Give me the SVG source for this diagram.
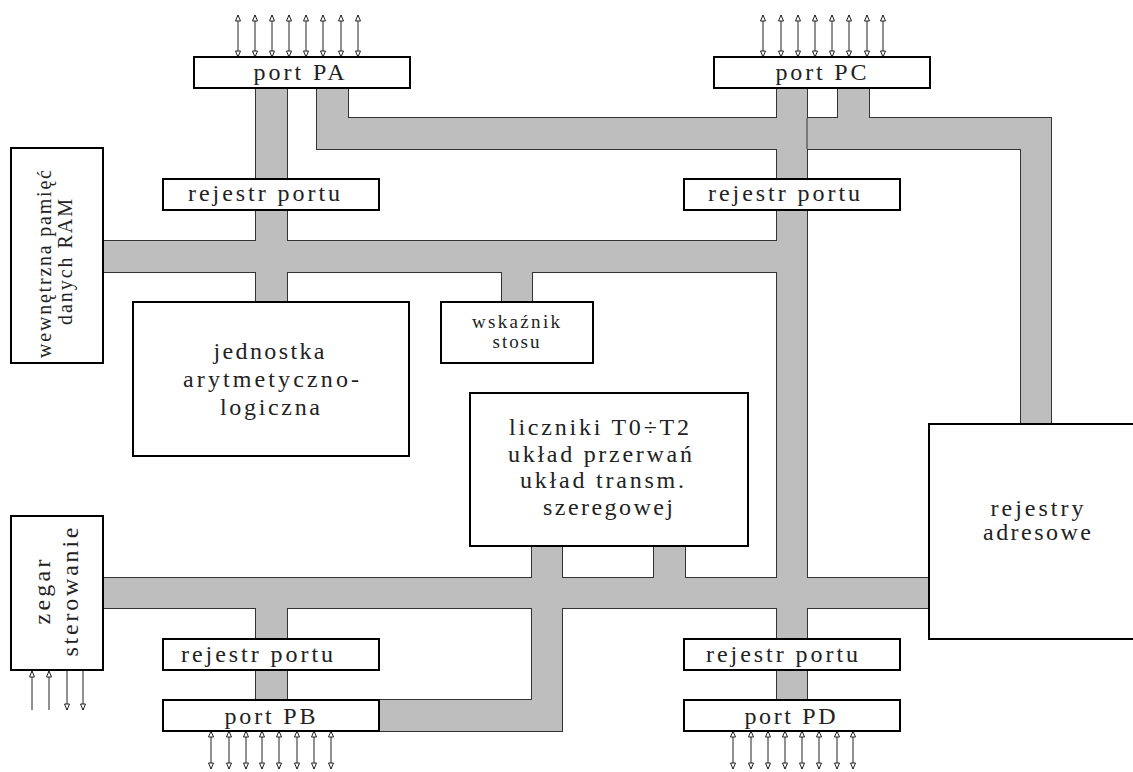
<svg xmlns="http://www.w3.org/2000/svg" width="1133" height="772" viewBox="0 0 1133 772">
<style>
.bs{fill:none;stroke:#333;stroke-width:2}
.bf{fill:#bebebe;stroke:none}
.box{fill:#fff;stroke:#000;stroke-width:2}
.t{font-family:"Liberation Serif","Times New Roman",serif;font-size:24px;fill:#222;text-anchor:middle}
.ts{font-family:"Liberation Serif","Times New Roman",serif;font-size:19px;fill:#222;text-anchor:middle}
.tr{font-family:"Liberation Serif","Times New Roman",serif;font-size:20px;fill:#222;text-anchor:middle}
.ar{stroke:#222;stroke-width:1;fill:none}
.ab{marker-start:url(#ah);marker-end:url(#ah)}
.ae{marker-end:url(#ah)}
.as{marker-start:url(#ah)}
</style>
<defs>
<marker id="ah" viewBox="-1 -4 8 8" markerWidth="8" markerHeight="8" markerUnits="userSpaceOnUse" refX="6" refY="0" orient="auto-start-reverse">
<path d="M0,-2.5 L6,0 L0,2.5 Z" fill="#fff" stroke="#222" stroke-width="1"/>
</marker>
</defs>
<g id="connectors">
<g id="bus-outline">
<rect class="bs" x="256" y="88" width="31" height="214"/>
<rect class="bs" x="317" y="88" width="31" height="61"/>
<rect class="bs" x="317" y="118" width="734" height="31"/>
<rect class="bs" x="1021" y="118" width="30" height="306"/>
<rect class="bs" x="838" y="88" width="31" height="61"/>
<rect class="bs" x="777" y="88" width="30" height="612"/>
<rect class="bs" x="103" y="241" width="687" height="31"/>
<rect class="bs" x="502" y="260" width="30" height="42"/>
<rect class="bs" x="103" y="578" width="826" height="30"/>
<rect class="bs" x="256" y="590" width="31" height="110"/>
<rect class="bs" x="532" y="546" width="30" height="185"/>
<rect class="bs" x="654" y="546" width="31" height="44"/>
<rect class="bs" x="379" y="700" width="168" height="31"/>
</g>
<g id="bus-fill">
<rect class="bf" x="256" y="88" width="31" height="214"/>
<rect class="bf" x="317" y="88" width="31" height="61"/>
<rect class="bf" x="317" y="118" width="734" height="31"/>
<rect class="bf" x="1021" y="118" width="30" height="306"/>
<rect class="bf" x="838" y="88" width="31" height="61"/>
<rect class="bf" x="777" y="88" width="30" height="612"/>
<rect class="bf" x="103" y="241" width="687" height="31"/>
<rect class="bf" x="502" y="260" width="30" height="42"/>
<rect class="bf" x="103" y="578" width="826" height="30"/>
<rect class="bf" x="256" y="590" width="31" height="110"/>
<rect class="bf" x="532" y="546" width="30" height="185"/>
<rect class="bf" x="654" y="546" width="31" height="44"/>
<rect class="bf" x="379" y="700" width="168" height="31"/>
</g>
<line x1="807" y1="118" x2="807" y2="149" stroke="#333" stroke-width="1"/>
<g id="pin-arrows">
<line class="ar ab" x1="238" y1="15" x2="238" y2="57"/>
<line class="ar ab" x1="255" y1="15" x2="255" y2="57"/>
<line class="ar ab" x1="272" y1="15" x2="272" y2="57"/>
<line class="ar ab" x1="289" y1="15" x2="289" y2="57"/>
<line class="ar ab" x1="306" y1="15" x2="306" y2="57"/>
<line class="ar ab" x1="323" y1="15" x2="323" y2="57"/>
<line class="ar ab" x1="341" y1="15" x2="341" y2="57"/>
<line class="ar ab" x1="358" y1="15" x2="358" y2="57"/>
<line class="ar ab" x1="763" y1="15" x2="763" y2="57"/>
<line class="ar ab" x1="781" y1="15" x2="781" y2="57"/>
<line class="ar ab" x1="798" y1="15" x2="798" y2="57"/>
<line class="ar ab" x1="815" y1="15" x2="815" y2="57"/>
<line class="ar ab" x1="832" y1="15" x2="832" y2="57"/>
<line class="ar ab" x1="849" y1="15" x2="849" y2="57"/>
<line class="ar ab" x1="867" y1="15" x2="867" y2="57"/>
<line class="ar ab" x1="883" y1="15" x2="883" y2="57"/>
<line class="ar ab" x1="211" y1="731" x2="211" y2="769"/>
<line class="ar ab" x1="229" y1="731" x2="229" y2="769"/>
<line class="ar ab" x1="246" y1="731" x2="246" y2="769"/>
<line class="ar ab" x1="262" y1="731" x2="262" y2="769"/>
<line class="ar ab" x1="279" y1="731" x2="279" y2="769"/>
<line class="ar ab" x1="297" y1="731" x2="297" y2="769"/>
<line class="ar ab" x1="314" y1="731" x2="314" y2="769"/>
<line class="ar ab" x1="331" y1="731" x2="331" y2="769"/>
<line class="ar ab" x1="733" y1="731" x2="733" y2="769"/>
<line class="ar ab" x1="751" y1="731" x2="751" y2="769"/>
<line class="ar ab" x1="768" y1="731" x2="768" y2="769"/>
<line class="ar ab" x1="785" y1="731" x2="785" y2="769"/>
<line class="ar ab" x1="802" y1="731" x2="802" y2="769"/>
<line class="ar ab" x1="819" y1="731" x2="819" y2="769"/>
<line class="ar ab" x1="837" y1="731" x2="837" y2="769"/>
<line class="ar ab" x1="853" y1="731" x2="853" y2="769"/>
<line class="ar as" x1="32" y1="671" x2="32" y2="710"/>
<line class="ar as" x1="49" y1="671" x2="49" y2="710"/>
<line class="ar ae" x1="67" y1="671" x2="67" y2="710"/>
<line class="ar ae" x1="83" y1="671" x2="83" y2="710"/>
</g>
</g>
<g id="port-pa"><rect class="box" x="194" y="57" width="216" height="31"/><text class="t" x="299" y="80" textLength="91" lengthAdjust="spacing">port PA</text></g>
<g id="port-pc"><rect class="box" x="714" y="57" width="216" height="31"/><text class="t" x="821" y="80" textLength="91" lengthAdjust="spacing">port PC</text></g>
<g id="rejestr-pa"><rect class="box" x="163" y="179" width="216" height="31"/><text class="t" x="264" y="201" textLength="152" lengthAdjust="spacing">rejestr portu</text></g>
<g id="rejestr-pc"><rect class="box" x="684" y="179" width="216" height="31"/><text class="t" x="784" y="201" textLength="152" lengthAdjust="spacing">rejestr portu</text></g>
<g id="rejestr-pb"><rect class="box" x="163" y="639" width="216" height="31"/><text class="t" x="257" y="662" textLength="152" lengthAdjust="spacing">rejestr portu</text></g>
<g id="rejestr-pd"><rect class="box" x="684" y="639" width="216" height="31"/><text class="t" x="782" y="662" textLength="152" lengthAdjust="spacing">rejestr portu</text></g>
<g id="port-pb"><rect class="box" x="163" y="700" width="216" height="31"/><text class="t" x="270" y="724" textLength="91" lengthAdjust="spacing">port PB</text></g>
<g id="port-pd"><rect class="box" x="684" y="700" width="216" height="31"/><text class="t" x="790" y="724" textLength="91" lengthAdjust="spacing">port PD</text></g>
<g id="ram"><rect class="box" x="11" y="148" width="92" height="215"/>
<text class="tr" transform="translate(51,264) rotate(-90)" textLength="188" lengthAdjust="spacing">wewnętrzna pamięć</text>
<text class="tr" transform="translate(72,262) rotate(-90)" textLength="126" lengthAdjust="spacing">danych RAM</text></g>
<g id="wskaznik"><rect class="box" x="441" y="302" width="152" height="61"/>
<text class="ts" x="516" y="328" textLength="88" lengthAdjust="spacing">wskaźnik</text>
<text class="ts" x="516" y="348" textLength="47" lengthAdjust="spacing">stosu</text></g>
<g id="alu"><rect class="box" x="133" y="302" width="276" height="154"/>
<text class="t" x="269" y="359" textLength="111" lengthAdjust="spacing">jednostka</text>
<text class="t" x="271" y="387" textLength="176" lengthAdjust="spacing">arytmetyczno-</text>
<text class="t" x="270" y="415" textLength="100" lengthAdjust="spacing">logiczna</text></g>
<g id="liczniki"><rect class="box" x="470" y="393" width="278" height="153"/>
<text class="t" x="599" y="435" textLength="180" lengthAdjust="spacing">liczniki T0÷T2</text>
<text class="t" x="600" y="462" textLength="184" lengthAdjust="spacing">układ przerwań</text>
<text class="t" x="602" y="488" textLength="164" lengthAdjust="spacing">układ transm.</text>
<text class="t" x="608" y="515" textLength="130" lengthAdjust="spacing">szeregowej</text></g>
<g id="rejestry-adresowe"><rect class="box" x="929" y="424" width="210" height="215"/>
<text class="t" x="1037" y="516" textLength="93" lengthAdjust="spacing">rejestry</text>
<text class="t" x="1037" y="540" textLength="108" lengthAdjust="spacing">adresowe</text></g>
<g id="zegar"><rect class="box" x="11" y="516" width="92" height="154"/>
<text class="t" transform="translate(50,592) rotate(-90)" textLength="65" lengthAdjust="spacing">zegar</text>
<text class="t" transform="translate(78,592) rotate(-90)" textLength="129" lengthAdjust="spacing">sterowanie</text></g>
</svg>
